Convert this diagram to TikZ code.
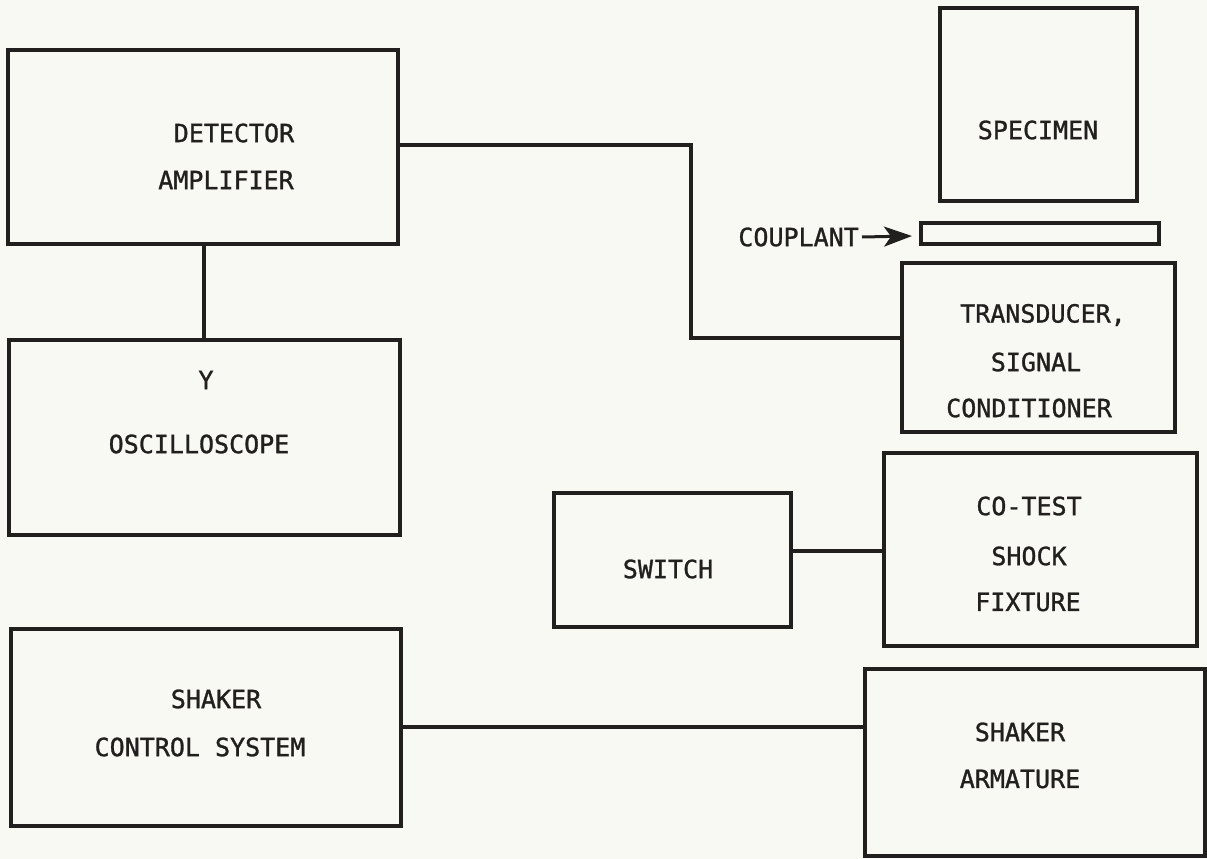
\documentclass[tikz,border=0pt]{standalone}
\usepackage{fontspec}
\newfontfamily\lgfont[FakeBold=1.2]{DejaVu Sans Mono}
\usetikzlibrary{arrows.meta}
\definecolor{paper}{RGB}{249,249,243}
\definecolor{ink}{RGB}{34,32,30}
\tikzset{
  box/.style={draw=ink, line width=3.4pt, inner sep=0pt, fill=none},
  lbl/.style={text=ink, inner sep=0pt, font=\lgfont\fontsize{25}{30}\selectfont},
  wire/.style={draw=ink, line width=3.2pt},
}
\begin{document}
\begin{tikzpicture}[x=1pt,y=-1pt]
\fill[paper] (0,0) rectangle (1207,859);
\useasboundingbox (0,0) rectangle (1207,859);
% boxes
\node[box, minimum width=390pt, minimum height=194pt] (det) at (203,147) {};
\node[box, minimum width=391pt, minimum height=195pt] (osc) at (204.5,437.5) {};
\node[box, minimum width=197pt, minimum height=193pt] (spec) at (1038.5,104.5) {};
\node[box, minimum width=238pt, minimum height=21pt] (coup) at (1040,233.5) {};
\node[box, minimum width=273pt, minimum height=169pt] (trans) at (1038.5,347.5) {};
\node[box, minimum width=237pt, minimum height=134pt] (sw) at (672.5,560) {};
\node[box, minimum width=313pt, minimum height=193pt] (cot) at (1040.5,549.5) {};
\node[box, minimum width=390pt, minimum height=197pt] (scs) at (206,727.5) {};
\node[box, minimum width=340pt, minimum height=187pt] (arm) at (1035,762.5) {};
% labels
\node[lbl] (t1) at (234,133) {DETECTOR};
\node[lbl] (t2) at (226,180) {AMPLIFIER};
\node[lbl] (t3) at (206,380) {Y};
\node[lbl] (t4) at (199,444) {OSCILLOSCOPE};
\node[lbl] (t5) at (1038,130) {SPECIMEN};
\node[lbl, anchor=east] (t6) at (859,237) {COUPLANT};
\node[lbl] (t7) at (1043,315) {TRANSDUCER,};
\node[lbl] (t8) at (1036,362) {SIGNAL};
\node[lbl] (t9) at (1029,408) {CONDITIONER};
\node[lbl] (t10) at (668,569) {SWITCH};
\node[lbl] (t11) at (1029,506) {CO-TEST};
\node[lbl] (t12) at (1029,556) {SHOCK};
\node[lbl] (t13) at (1028,602) {FIXTURE};
\node[lbl] (t14) at (216,699) {SHAKER};
\node[lbl] (t15) at (200,747) {CONTROL SYSTEM};
\node[lbl] (t16) at (1020,732) {SHAKER};
\node[lbl] (t17) at (1020,779) {ARMATURE};
% connectors
\coordinate (bend1) at (691,145);
\coordinate (bend2) at (691,338);
\draw[wire] (det.east |- bend1) -- (bend1) -- (bend2) -- (trans.west |- bend2);
\draw[wire] (det.south -| 204,0) -- (osc.north -| 204,0);
\coordinate (swy) at (0,551);
\draw[wire] (sw.east |- swy) -- (cot.west |- swy);
\coordinate (shy) at (0,727);
\draw[wire] (scs.east |- shy) -- (arm.west |- shy);
\coordinate (tip) at (912,236);
\draw[draw=ink, line width=3pt, -{Stealth[length=28pt,width=20pt,inset=7pt]}] ([xshift=3pt]t6.east) -- (tip);
\end{tikzpicture}
\end{document}
